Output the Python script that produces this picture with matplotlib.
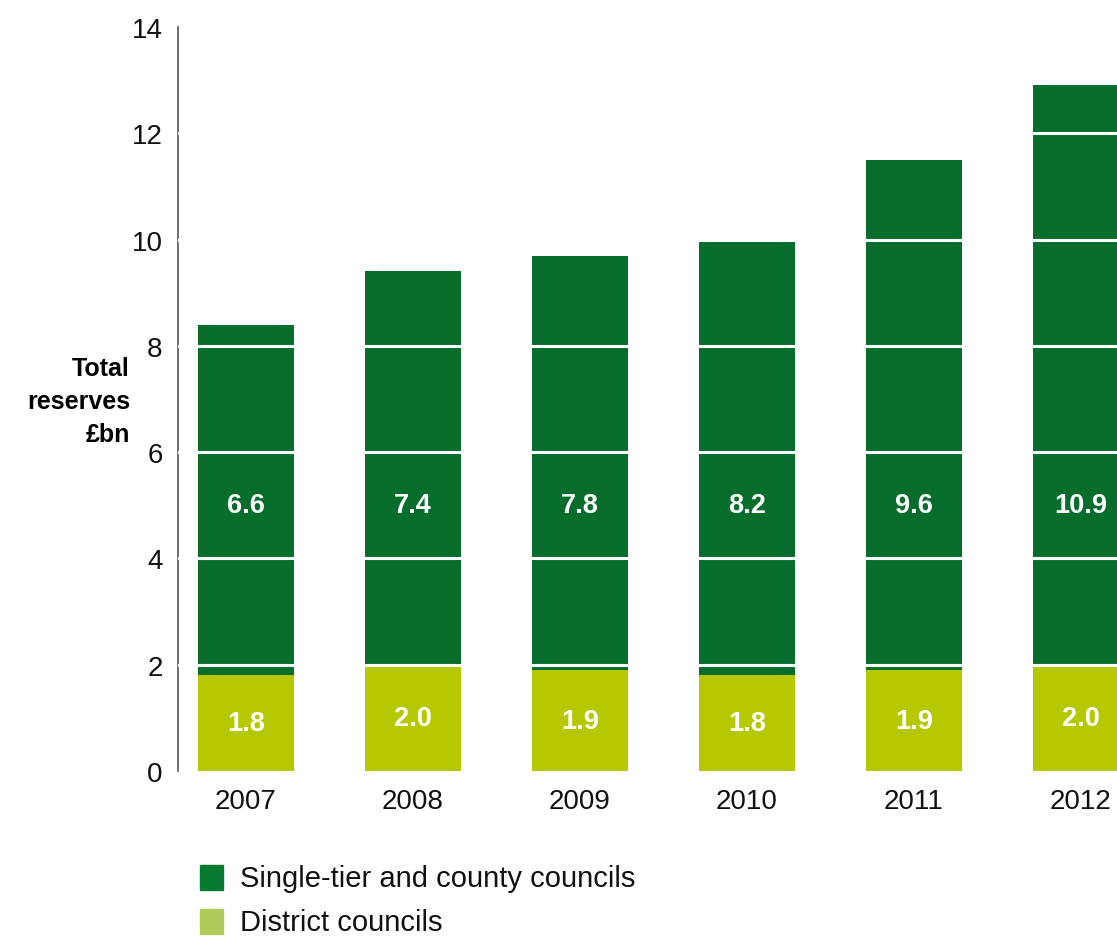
import matplotlib.pyplot as plt
from matplotlib.patches import Rectangle

plt.rcParams['font.family'] = ['Liberation Sans', 'DejaVu Sans']

# --- Dados (reservas totais, £bn) ---
years = ['2007', '2008', '2009', '2010', '2011', '2012']
district = [1.8, 2.0, 1.9, 1.8, 1.9, 2.0]
single_tier = [6.6, 7.4, 7.8, 8.2, 9.6, 10.9]
legend_labels = ['Single-tier and county councils', 'District councils']

dark_green = '#066d2c'
light_green = '#b5c800'

W, H = 1117, 937
fig = plt.figure(figsize=(W / 100, H / 100), dpi=100)
ax = fig.add_axes([178 / W, 1 - 772 / H, 1 - 178 / W, 744 / H])

x = list(range(len(years)))
width = 0.57

ax.bar(x, district, width, color=light_green, zorder=2)
ax.bar(x, single_tier, width, bottom=district, color=dark_green, zorder=2)

# linhas brancas da grelha por cima das barras
for g in range(2, 14, 2):
    ax.axhline(g, color='white', lw=2.2, zorder=3)

# rótulos dentro das barras
for i in x:
    ax.text(i, district[i] / 2, f'{district[i]:.1f}', ha='center', va='center',
            color='white', fontsize=19.5, fontweight='bold', zorder=4)
    ax.text(i, 5, f'{single_tier[i]:.1f}', ha='center', va='center',
            color='white', fontsize=19.5, fontweight='bold', zorder=4)

ax.set_xlim(-0.407, 5.216)
ax.set_ylim(0, 14)
ax.set_yticks(range(0, 15, 2))
ax.set_xticks(x)
ax.set_xticklabels(years)
ax.tick_params(axis='both', length=0, labelsize=20, pad=11, labelcolor='#111111')
ax.tick_params(axis='x', pad=12)

for s in ['top', 'right', 'bottom']:
    ax.spines[s].set_visible(False)
ax.spines['left'].set_color('#666666')
ax.spines['left'].set_linewidth(1.3)

fig.text(130 / W, 1 - 402 / H, 'Total\nreserves\n£bn', ha='right', va='center',
         fontsize=18, fontweight='bold', linespacing=1.5)

# legenda desenhada à mão
legend_colors = ['#077a30', '#aecb5a']
for k, (lab, col) in enumerate(zip(legend_labels, legend_colors)):
    yc = 879 + 44 * k
    fig.patches.append(Rectangle((200 / W, 1 - (yc + 12) / H), 23 / W, 25 / H,
                                 transform=fig.transFigure, color=col))
    fig.text(240 / W, 1 - yc / H, lab, ha='left', va='center', fontsize=21,
             color='#111111')

fig.savefig('out.png', dpi=100)
